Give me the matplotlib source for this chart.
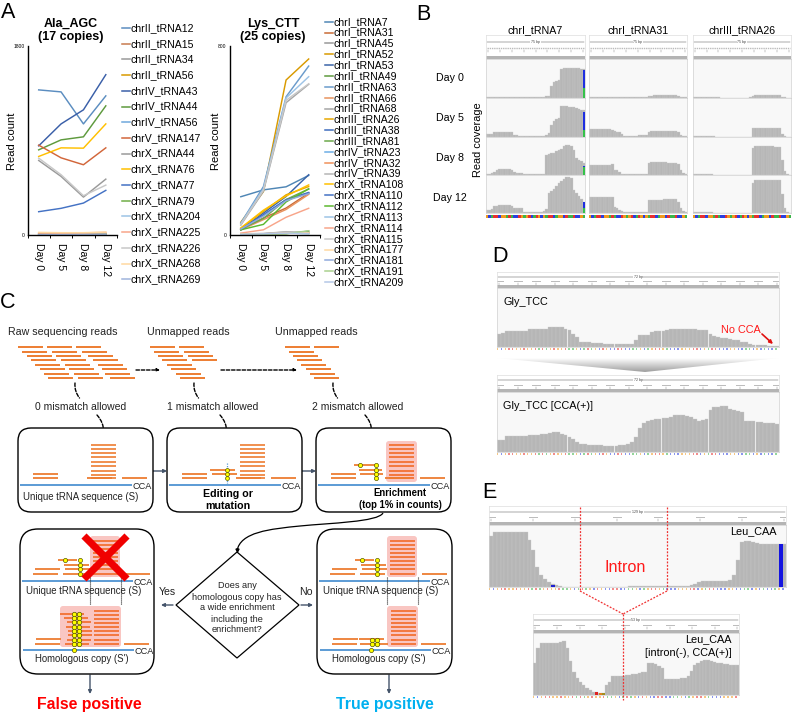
import numpy as np
import matplotlib
matplotlib.use('Agg')
import matplotlib.pyplot as plt
from matplotlib.patches import FancyBboxPatch, FancyArrowPatch, PathPatch, Polygon, Rectangle
from matplotlib.path import Path

plt.rcParams['font.family'] = ['Liberation Sans', 'DejaVu Sans']

W, H = 794, 716
fig = plt.figure(figsize=(W / 100, H / 100), dpi=100)

# ---- panel A data ----
days = ['Day 0', 'Day 5', 'Day 8', 'Day 12']

ala_names = ['chrII_tRNA12', 'chrII_tRNA15', 'chrII_tRNA34', 'chrII_tRNA56', 'chrIV_tRNA43',
             'chrIV_tRNA44', 'chrIV_tRNA56', 'chrV_tRNA147', 'chrX_tRNA44', 'chrX_tRNA76',
             'chrX_tRNA77', 'chrX_tRNA79', 'chrX_tRNA204', 'chrX_tRNA225', 'chrX_tRNA226',
             'chrX_tRNA268', 'chrX_tRNA269']
ala_values = [[1382, 1363, 1058, 1325], [15, 18, 15, 15], [4, 4, 5, 5], [8, 8, 8, 10],
              [849, 1058, 1192, 1527], [811, 906, 935, 1230], [5, 6, 6, 6], [856, 735, 669, 830],
              [710, 558, 361, 532], [748, 830, 827, 1058], [222, 254, 304, 425], [3, 4, 4, 4],
              [6, 6, 7, 8], [20, 18, 20, 25], [732, 574, 374, 475], [25, 22, 22, 28], [3, 3, 4, 4]]
ala_colors = ['#5B8DC0', '#C87A4E', '#9A9A9A', '#D99A00', '#3A5FA8', '#5E9A3D', '#6FA8DC', '#D2663A',
              '#9A9A9A', '#FFC000', '#4472C4', '#70AD47', '#9DC3E6', '#F8A58A', '#C8C8C8', '#FFD9A0',
              '#9FB4DC']

lys_names = ['chrI_tRNA7', 'chrI_tRNA31', 'chrI_tRNA45', 'chrI_tRNA52', 'chrI_tRNA53', 'chrII_tRNA49',
             'chrII_tRNA63', 'chrII_tRNA66', 'chrII_tRNA68', 'chrIII_tRNA26', 'chrIII_tRNA38',
             'chrIII_tRNA81', 'chrIV_tRNA23', 'chrIV_tRNA32', 'chrIV_tRNA39', 'chrX_tRNA108',
             'chrX_tRNA110', 'chrX_tRNA112', 'chrX_tRNA113', 'chrX_tRNA114', 'chrX_tRNA115',
             'chrX_tRNA177', 'chrX_tRNA181', 'chrX_tRNA191', 'chrX_tRNA209']
lys_values = [[162, 191, 204, 252], [22, 72, 114, 177], [5, 6, 12, 8], [54, 184, 656, 745],
              [22, 93, 163, 255], [3, 4, 6, 16], [50, 205, 585, 715], [22, 65, 108, 172],
              [42, 185, 560, 638], [28, 100, 170, 205], [25, 85, 150, 180], [25, 70, 150, 195],
              [4, 5, 8, 6], [3, 4, 10, 10], [5, 6, 14, 10], [30, 105, 165, 212],
              [22, 85, 148, 178], [22, 45, 140, 195], [48, 195, 580, 670], [8, 22, 75, 113],
              [44, 190, 570, 640], [4, 5, 8, 9], [25, 80, 145, 175], [2, 3, 5, 18], [3, 5, 8, 6]]
lys_colors = ['#4F86B5', '#C96B36', '#999999', '#D99A00', '#3A64A8', '#5E9A3D', '#6A9BCB', '#E8935E',
              '#A5A5A5', '#E8A800', '#3F6DBE', '#6BA84A', '#6CAEE6', '#F0915A', '#B5B5B5', '#FFC000',
              '#4472C4', '#5CB82F', '#9DC3E6', '#F8A58A', '#C8C8C8', '#FFD9A0', '#8FAADC', '#A9D18E',
              '#B4C7E7']

# ---- panel B coverage, % of track height, 40 bins ----
b_titles = ['chrI_tRNA7', 'chrI_tRNA31', 'chrIII_tRNA26']
b_tracks = [
    [[2,2,2,2,2,2,2,2,2,2,2,2,2,2,2,2,2,2,2,2,2,2,3,3,4,5,30,40,44,46,75,77,77,77,77,77,77,76,75,75],
     [7,7,8,12,12,13,13,13,13,13,13,6,5,3,2,2,2,2,2,2,2,2,2,3,6,10,30,42,46,50,80,80,80,78,78,76,74,72,70,68],
     [2,2,4,8,14,15,16,16,16,15,14,8,6,5,4,3,3,3,3,2,2,2,2,2,52,56,58,58,62,66,68,76,80,80,76,66,46,40,36,32],
     [8,8,10,19,19,20,20,20,20,20,19,14,13,13,12,3,2,2,2,2,2,2,2,4,10,52,58,64,72,78,84,90,96,96,92,60,52,44,38,30]],
    [[3,3,3,3,3,3,3,3,3,3,3,2,2,2,2,2,2,2,2,2,2,2,2,2,4,6,7,7,7,7,7,7,7,7,7,7,6,3,2,2],
     [20,20,20,20,20,20,20,20,20,18,16,14,13,8,3,2,2,2,3,3,4,4,5,6,14,16,16,16,16,16,16,15,15,15,15,15,14,6,3,2],
     [26,27,27,27,27,27,27,27,27,28,14,12,8,3,2,2,2,2,2,2,2,2,2,2,32,33,33,33,33,33,33,33,32,32,32,32,30,12,4,2],
     [41,42,42,42,42,42,42,42,43,42,16,12,8,4,3,2,2,2,2,2,2,2,2,2,33,34,35,35,35,35,36,36,37,37,37,37,30,12,6,3]],
    [[2,2,2,2,2,2,2,2,2,2,2,1,1,1,1,1,1,1,1,1,1,1,1,3,6,7,7,8,8,8,8,8,8,8,7,7,3,2,1,1],
     [2,2,2,2,2,2,2,2,2,1,1,1,1,1,1,1,1,1,1,1,1,1,1,1,22,23,23,23,23,23,23,23,23,23,23,22,8,3,1,1],
     [2,2,2,2,2,2,2,2,1,1,1,1,1,1,1,1,1,1,1,1,1,1,1,1,72,76,76,76,76,76,76,76,76,75,75,75,40,10,2,1],
     [3,3,3,3,3,3,3,2,1,1,1,1,1,1,1,1,1,1,1,1,1,1,1,1,80,87,88,88,88,88,88,88,88,88,88,87,50,14,3,1]],
]
b_seq = 'GCATTCGGATACCTGAGTCATGCGATTCAGGCTAATCCGA'
# blue mismatch bar at the 3' end of chrI_tRNA7: total and green part, per day
b_end_total = [72, 65, 25, 30]
b_end_green = [26, 18, 22, 13]

# ---- panel D and E coverage ----
gly_tcc = [40,42,48,48,48,48,48,48,54,55,55,55,55,60,60,60,60,55,50,40,30,16,15,14,13,12,12,10,9,8,8,8,8,8,8,22,
           36,36,36,46,47,47,47,52,55,55,55,54,54,53,53,52,52,50,38,34,30,28,26,24,22,20,16,15,10,7,5,5,5,4,2,2]
gly_tcc_cca = [35,36,48,48,48,48,48,48,49,50,51,52,53,57,58,58,52,50,45,38,30,24,23,22,22,21,20,18,18,18,19,20,
               22,25,30,45,72,85,92,95,96,97,99,100,104,110,110,109,106,102,98,92,94,96,125,132,133,135,135,128,125,122,118,92,
               91,90,89,88,87,86,85,83]
leu_caa = [150,162,162,162,162,163,163,163,163,163,140,110,60,35,25,15,10,5,3,1,1,1,1,1,1,1,1,1,1,1,1,1,1,1,1,1,
           2,2,2,2,2,2,2,2,2,2,2,2,2,2,2,3,5,8,16,17,17,17,17,18,18,18,22,35,80,135,137,136,134,132,127,127,127,127,127,127,127]
leu_caa_cut = [95,140,155,155,155,155,155,156,158,160,140,100,70,50,40,30,22,14,10,8,5,5,30,40,57,57,58,58,59,60,62,64,66,68,70,95,
               95,92,88,80,48,48,48,49,49,50,50,58,72,90,95,100,103,103,100,97,95,94,93,92,91,90,89]
gly_seq = 'GCGTTGGTGGTATAGTGGTAAGCATAGCTGCCTTCCAAGCAGTTGACCCGGGTTCGATTCCCGGCCAACGCACCA'

fig_ax = fig.add_axes([0, 0, 1, 1], zorder=10)
fig_ax.set_xlim(0, W)
fig_ax.set_ylim(H, 0)
fig_ax.axis('off')
fig_ax.patch.set_alpha(0)


def box_axes(x0, y0, x1, y1):
    # axes placed by pixel box, y measured from the top of the picture
    return fig.add_axes([x0 / W, 1 - y1 / H, (x1 - x0) / W, (y1 - y0) / H])


def txt(x, y, s, size=7.6, ha='center', va='center', **kw):
    fig_ax.text(x, y, s, fontsize=size, ha=ha, va=va, **kw)


def line_chart(x0, x1, names, values, colors, top, title, title_x, ylab_x, leg_handle, leg_y0, leg_dy):
    ax = box_axes(x0, 46, x1, 235)
    for v, c in zip(values, colors):
        ax.plot(range(4), v, color=c, lw=1.05)
    ax.set_xlim(-0.5, 3.5)
    ax.set_ylim(0, top)
    ax.set_yticks([0, top])
    ax.set_yticklabels(['0', str(top)], fontsize=3.6)
    ax.set_xticks(range(4))
    ax.set_xticklabels(days, rotation=270, fontsize=7.5)
    ax.set_xticks(np.arange(-0.5, 4), minor=True)
    ax.tick_params(axis='x', which='major', length=0, pad=6)
    ax.tick_params(axis='x', which='minor', length=2.5, width=0.7)
    ax.tick_params(axis='y', length=0, pad=2)
    ax.spines[['top', 'right']].set_visible(False)
    ax.spines['left'].set_linewidth(1.0)
    ax.spines['bottom'].set_linewidth(1.0)
    ax.patch.set_alpha(0)
    txt(title_x, 30.5, title, size=9, fontweight='bold', linespacing=1.2)
    txt(ylab_x, 141, 'Read count', size=8, rotation=90)
    for i, (n, c) in enumerate(zip(names, colors)):
        y = leg_y0 + i * leg_dy
        fig_ax.plot([leg_handle, leg_handle + 8], [y, y], color=c, lw=1.1)
        txt(leg_handle + 8.7, y, n, size=7.6, ha='left')


line_chart(27.5, 117, ala_names, ala_values, ala_colors, 1800, 'Ala_AGC\n(17 copies)', 71, 12, 122, 28, 15.7)
line_chart(229.5, 320, lys_names, lys_values, lys_colors, 800, 'Lys_CTT\n(25 copies)', 273, 216, 325, 21.7, 10.85)

txt(1, 13, 'A', size=15.5, ha='left')
txt(416, 15, 'B', size=15.5, ha='left')
txt(0, 303, 'C', size=15.5, ha='left')
txt(492, 257, 'D', size=15.5, ha='left')
txt(482, 493, 'E', size=15.5, ha='left')


def coverage(x0, y0, x1, y1, values, top=100):
    ax = box_axes(x0, y0, x1, y1)
    ax.bar(range(len(values)), values, width=1.0, color='#B6B6B6', edgecolor='#CACACA', linewidth=0.25)
    ax.set_xlim(-0.5, len(values) - 0.5)
    ax.set_ylim(0, top)
    ax.set_xticks([])
    ax.set_yticks([])
    ax.set_facecolor('#F8F8F8')
    for s in ax.spines.values():
        s.set_color('#D0D0D0')
        s.set_linewidth(0.5)
    return ax


def header(x0, y0, x1, y1, label, nticks, dotted=False):
    ax = box_axes(x0, y0, x1, y1)
    ax.set_xlim(x0, x1)
    ax.set_ylim(y1, y0)
    ax.set_xticks([])
    ax.set_yticks([])
    for s in ax.spines.values():
        s.set_color('#DDDDDD')
        s.set_linewidth(0.5)
    ym = y0 + (y1 - y0) * 0.3
    yl = y0 + (y1 - y0) * 0.56
    ax.plot([x0 + 1, x1 - 1], [ym, ym], color='#555555', lw=0.35)
    ax.text((x0 + x1) / 2, ym, label, fontsize=2.6, ha='center', va='center', color='#444444',
            bbox=dict(fc='white', ec='none', pad=0.4))
    if dotted:
        ax.plot([x0 + 1, x1 - 1], [yl, yl], color='#BBBBBB', lw=1.0, ls=(0, (1, 0.6)))
    for t in np.linspace(x0 + 2, x1 - 2, nticks):
        ax.plot([t, t], [yl + 2, yl + 4], color='#888888', lw=0.35)
        if not dotted:
            ax.plot([t - 4, t + 4], [yl, yl], color='#BBBBBB', lw=0.7)
    ax.add_patch(Rectangle((x0, y1 - 2.6), x1 - x0, 2.6, color='#B4B4B4', lw=0))


def base_strip(x0, y0, x1, y1, seq, alpha=1.0, gap=0.0):
    cols = {'A': '#3CB54A', 'C': '#2A3FE0', 'G': '#F09A20', 'T': '#E83030'}
    w = (x1 - x0) / len(seq)
    for i, b in enumerate(seq):
        fig_ax.add_patch(Rectangle((x0 + i * w, y0), w - gap, y1 - y0, color=cols[b], alpha=alpha, lw=0))


# ---- panel B ----
b_cols = [(486, 585), (589, 687), (693, 791)]
b_rows = [(59, 98), (98, 137), (137, 175), (175, 213)]
for c, (x0, x1) in enumerate(b_cols):
    txt((x0 + x1) / 2, 30, b_titles[c], size=7.7)
    header(x0, 35, x1, 59, '75 bp', 9, dotted=True)
    for r, (y0, y1) in enumerate(b_rows):
        ax = coverage(x0, y0, x1, y1, b_tracks[c][r])
        if c == 0:
            ax.bar(39, b_end_total[r], width=0.8, color='#1F2FE0', linewidth=0)
            ax.bar(39, b_end_green[r], width=0.8, color='#35C24A', linewidth=0)
    base_strip(x0, 215, x1, 218, b_seq)
for d, y in zip(days, [78, 118, 158, 198]):
    txt(450, y, d, size=7.7)
txt(478, 140, 'Read coverage', size=7.9, rotation=90)

# ---- panel D ----
header(497, 272, 779, 288, '72 bp', 16)
coverage(497, 288, 779, 347, gly_tcc, top=177)
base_strip(497, 348, 779, 350, gly_seq, alpha=0.55, gap=2.4)
header(497, 375, 779, 392, '72 bp', 16)
coverage(497, 392, 779, 452, gly_tcc_cca, top=177)
base_strip(497, 453, 779, 455, gly_seq, alpha=0.55, gap=2.4)

grad = np.linspace(1, 0.62, 64).reshape(-1, 1)
im = fig_ax.imshow(grad, cmap='gray', vmin=0, vmax=1, extent=(497, 779, 372, 358), aspect='auto')
funnel = Polygon([(497, 358), (779, 358), (645, 372)], transform=fig_ax.transData, fc='none', ec='none')
fig_ax.add_patch(funnel)
im.set_clip_path(funnel)
fig_ax.set_xlim(0, W)
fig_ax.set_ylim(H, 0)

txt(503, 302, 'Gly_TCC', size=7.8, ha='left')
txt(503, 406, 'Gly_TCC [CCA(+)]', size=7.8, ha='left')
txt(721, 330, 'No CCA', size=7.8, ha='left', color='#FF1A1A')
fig_ax.add_patch(FancyArrowPatch((762, 334), (773, 344), arrowstyle='-|>', mutation_scale=5, color='#E01010', lw=1.2,
                                 shrinkA=0, shrinkB=0))

# ---- panel E ----
header(489, 506, 786, 525, '129 bp', 8)
ax = coverage(489, 525, 786, 587, leu_caa, top=184)
ax.bar(75.2, 127, width=1.2, color='#1414E0', linewidth=0)
ax.bar(16, 5, width=1, color='#2020D0', linewidth=0)
base_strip(489, 588, 786, 590, gly_seq + gly_seq[:2], alpha=0.55, gap=2.4)
header(533, 614, 739, 633, '53 bp', 10)
ax = coverage(533, 633, 739, 695, leu_caa_cut, top=185)
ax.bar(19, 9, width=0.9, color='#E02020', linewidth=0)
ax.bar(20, 7, width=0.9, color='#E08020', linewidth=0)
ax.bar(21, 5, width=0.9, color='#A09020', linewidth=0)
base_strip(533, 696, 739, 698, gly_seq[:53], alpha=0.55, gap=2.4)

red = '#F03030'
for pts in ([(580, 507), (580, 591)], [(667, 507), (667, 591)], [(580, 591), (623, 614)],
            [(667, 591), (623, 614)], [(623, 614), (623, 700)]):
    fig_ax.plot(*zip(*pts), color=red, lw=0.9, ls=(0, (1.5, 1.2)))
txt(625, 567, 'Intron', size=11.6, color='#FF1A1A')
txt(777, 531, 'Leu_CAA', size=7.8, ha='right')
txt(732, 639, 'Leu_CAA', size=7.8, ha='right')
txt(732, 653, '[intron(-), CCA(+)]', size=7.8, ha='right')

# ---- panel C schematic ----
ORANGE = '#ED7D31'
BLUE = '#5B9BD5'
SLATE = '#44546A'
DARK_READ = '#F26A28'


def reads(starts, ys, length=25, color=ORANGE, lw=1.4):
    for s, y in zip(starts, ys):
        fig_ax.plot([s, s + length], [y, y], color=color, lw=lw, solid_capstyle='butt')


def dashed_curve(p0, p1, rad=0.15, head=True):
    style = '-|>' if head else '-'
    fig_ax.add_patch(FancyArrowPatch(p0, p1, connectionstyle=f'arc3,rad={rad}', arrowstyle=style, mutation_scale=4,
                                     color='black', lw=1.0, ls=(0, (2.5, 1.3)), shrinkA=0, shrinkB=0))


def slate_arrow(p0, p1):
    fig_ax.add_patch(FancyArrowPatch(p0, p1, arrowstyle='-|>', mutation_scale=5, color=SLATE, lw=1.0,
                                     shrinkA=0, shrinkB=0))


def rbox(x0, y0, x1, y1, rad):
    fig_ax.add_patch(FancyBboxPatch((x0 + rad, y0 + rad), x1 - x0 - 2 * rad, y1 - y0 - 2 * rad,
                                    boxstyle=f'round,pad={rad},rounding_size={rad}', fc='white', ec='black', lw=1.0,
                                    zorder=1.5))


def pink(x0, y0, x1, y1):
    fig_ax.add_patch(FancyBboxPatch((x0 + 3, y0 + 3), x1 - x0 - 6, y1 - y0 - 6, boxstyle='round,pad=3,rounding_size=3',
                                    fc='#F9C6C2', ec='none', zorder=1.6))


def dots(xs, ys, size=3.6):
    fig_ax.plot(xs, ys, 'o', ms=size, mfc='#FFFF00', mec='#555500', mew=0.5, zorder=4, ls='none')


def tmpl(x0, x1, y):
    fig_ax.plot([x0, x1], [y, y], color=BLUE, lw=1.4, solid_capstyle='butt', zorder=2.5)
    txt(x1 + 0.6, y + 1.5, 'CCA', size=6.6, ha='left', zorder=5, color='#222222')


for x, s in zip([8, 147, 275], ['Raw sequencing reads', 'Unmapped reads', 'Unmapped reads']):
    txt(x, 332, s, size=7.7, ha='left', color='#222222')

row_y = [347.3, 351.7, 356, 360.4, 364.8, 369.2, 373.6, 378]
reads([18, 22.3, 26.6, 30.9, 35.2, 39.5, 43.8, 48], row_y)
reads([47, 51.5, 56, 60.5, 65, 69, 73.5, 78], row_y)
reads([76, 82, 88, 93, 98, 102, 105, 110], row_y)
reads([150, 154, 158, 162, 167, 171, 175.5, 180], row_y)
reads([179, 184, 188, 192], row_y[:4])
reads([285, 289, 293, 297, 301, 305.5, 310, 314], row_y)
reads([314], row_y[:1])
for x0, x1 in [(136, 160), (221, 297)]:
    fig_ax.add_patch(FancyArrowPatch((x0, 370), (x1, 370), arrowstyle='-|>', mutation_scale=4, color='black', lw=1.0,
                                     ls=(0, (2.5, 1.3)), shrinkA=0, shrinkB=0))

for x_a, x_t, x_b, s in [(75, 81, 97, '0 mismatch allowed'), (194, 213, 220, '1 mismatch allowed'),
                         (333, 358, 365, '2 mismatch allowed')]:
    dashed_curve((x_a, 383), (x_a + 4.5, 398), rad=0.2, head=False)
    txt(x_t, 407, s, size=7.5, color='#222222')
    dashed_curve((x_b, 415), (x_b + 6.5, 433), rad=-0.2)

rbox(18, 428, 153, 512, 13)
rbox(167, 428, 302, 512, 13)
rbox(316, 428, 451, 512, 13)
slate_arrow((153, 471), (167, 471))
slate_arrow((302, 471), (316, 471))

stack_y = [445, 449, 453, 457, 462, 466, 471, 475, 478]
low_y = [474, 478, 478, 478]
for off, k in [(0, 0), (149, 1), (298, 2)]:
    if k == 2:
        pink(386, 441, 417, 482)
    reads([91 + off] * 9, stack_y, color=DARK_READ if k == 2 else ORANGE, lw=1.2)
    reads([33 + off, 33 + off, 87 + off, 122 + off], low_y, lw=1.3)
    tmpl(20 + off, 132 + off, 485)

txt(81, 497, 'Unique tRNA sequence (S)', size=6.9, color='#222222')
# edited reads in box 2
reads([210, 212], [470, 474], lw=1.3)
fig_ax.plot([227, 227], [463, 484], color=BLUE, lw=0.9, ls=(0, (1, 1)), zorder=3)
dots([227, 227, 227], [470, 474, 478], size=2.8)
txt(228, 494, 'Editing or', size=7.7, fontweight='bold')
txt(228, 506, 'mutation', size=7.7, fontweight='bold')
# box 3 extras
reads([354, 359, 360], [465, 470, 474], length=23, lw=1.3)
dots([360, 376, 376, 376, 376], [465, 465, 470, 474, 478], size=3)
txt(400, 493, 'Enrichment', size=6.9, fontweight='bold')
txt(400, 505, '(top 1% in counts)', size=6.9, fontweight='bold')

rbox(20, 529, 154, 674, 18)
rbox(317, 529, 452, 674, 18)

upper_y = [541, 545, 549, 553, 557, 561, 565, 569, 574]
for off in [0, 297]:
    pink(90 + off, 536, 120 + off, 577)
    reads([93 + off] * 9, upper_y, color=DARK_READ, lw=1.2)
    reads([35 + off, 33 + off, 64 + off, 65 + off, 63 + off, 125 + off],
          [569, 574, 565, 569, 574, 574], lw=1.3)
    reads([58 + off], [560], length=19, lw=1.3)
    dots([65 + off, 80 + off, 80 + off, 80 + off, 80 + off], [560, 560, 565, 569, 574], size=3)
    tmpl(22 + off, 133 + off, 581)
    txt(84 + off, 591, 'Unique tRNA sequence (S)', size=6.9, color='#222222', zorder=5)
    tmpl(23 + off, 134 + off, 650)
    txt(82 + off, 659, "Homologous copy (S')", size=6.9, color='#222222')
    for x in (90, 121):
        fig_ax.plot([x + off, x + off], [577, 605], color='#333333', lw=0.8, ls=(0, (1, 0.8)), zorder=3)
    dots([74 + off], [650], size=3)
    reads([36 + off, 35 + off, 124 + off], [639, 644, 644], lw=1.3)

# homologous copy, left box is the wide enrichment
pink(60, 606, 121, 647)
reads([94] * 9, [611, 615, 619, 623, 627, 631, 635, 640, 644], color=DARK_READ, lw=1.2)
left_rows = [614, 618, 622, 627, 631, 635, 640, 644]
reads([60, 64, 67, 66, 68, 68, 67, 65], left_rows, length=24, color=DARK_READ, lw=1.2)
dots([74] * 8 + [79] * 8, left_rows + left_rows, size=3.2)
# homologous copy, right box stays narrow
pink(387, 606, 418, 647)
reads([391] * 9, [611, 615, 619, 623, 627, 631, 635, 640, 644], color=DARK_READ, lw=1.2)
reads([359], [639], length=25, lw=1.3)
reads([360], [644], length=28, lw=1.3)
dots([372, 377, 372, 377], [640, 640, 644, 644], size=3.2)

# red cross over the rejected enrichment
fig_ax.plot([84, 127], [536, 579], color='#F00000', lw=5.2, zorder=6, solid_capstyle='butt')
fig_ax.plot([127, 84], [536, 579], color='#F00000', lw=5.2, zorder=6, solid_capstyle='butt')

# decision diamond
fig_ax.add_patch(Polygon([(237, 552), (299, 605), (237, 658), (176, 605)], closed=True, fc='white', ec='black', lw=0.9))
for y, s in zip([586, 597, 608, 619, 630], ['Does any', 'homologous copy has', 'a wide enrichment', 'including the',
                                            'enrichment?']):
    txt(237, y, s, size=6.6, color='#222222')
curve = Path([(383, 513), (378, 522), (330, 523), (300, 526), (270, 529), (240, 532), (237, 551)],
             [Path.MOVETO, Path.CURVE4, Path.CURVE4, Path.CURVE4, Path.CURVE4, Path.CURVE4, Path.CURVE4])
fig_ax.add_patch(PathPatch(curve, fc='none', ec='black', lw=0.9))
fig_ax.plot([237], [550], marker='v', ms=2.2, color='black')

txt(167, 592, 'Yes', size=7.6, color='#222222')
txt(306, 592, 'No', size=7.6, color='#222222')
slate_arrow((173, 605), (161, 605))
slate_arrow((301, 605), (313, 605))
slate_arrow((90, 675), (90, 694))
slate_arrow((389, 675), (389, 694))
txt(89, 704, 'False positive', size=11.4, fontweight='bold', color='#FF0000')
txt(385, 704, 'True positive', size=11.4, fontweight='bold', color='#00B0F0')

fig.savefig('out.png', dpi=100)
